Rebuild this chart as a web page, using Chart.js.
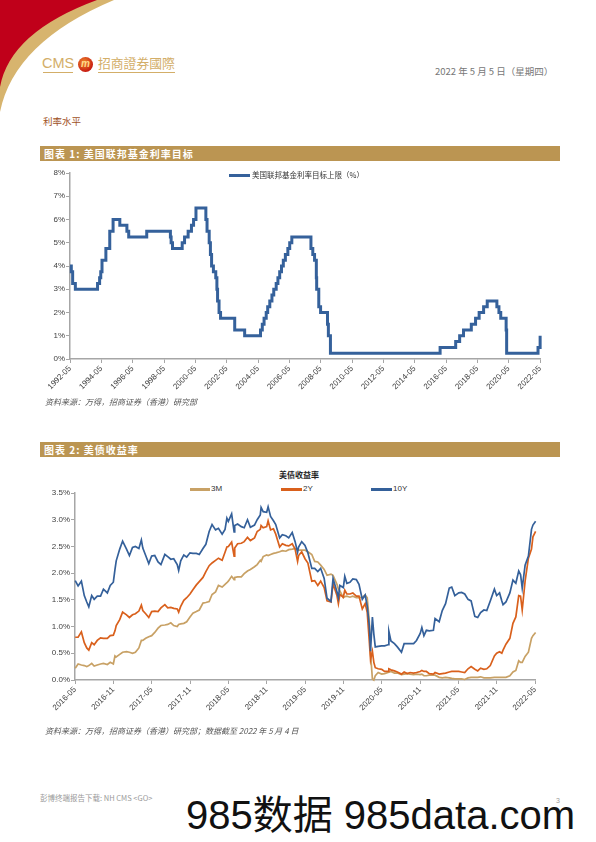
<!DOCTYPE html>
<html lang="zh-CN">
<head>
<meta charset="UTF-8" />
<title>利率水平</title>
<script src="https://cdn.jsdelivr.net/npm/chart.js"></script>
<style>
  body { margin: 0; padding: 0; background: #fff; font-family: "Liberation Sans", Arial, "Noto Sans CJK SC", sans-serif; }
  .page { position: relative; width: 596px; height: 842px; overflow: hidden; background: #fff; }
  .abs { position: absolute; white-space: nowrap; }
  .cjk { font-family: "Noto Sans CJK SC", sans-serif; }
  .bar { position: absolute; left: 40px; width: 520px; height: 15px; background: #bb9552; color: #fff;
         font-family: "Noto Sans CJK SC", sans-serif; font-weight: bold; font-size: 10px; line-height: 15px;
         letter-spacing: 1px; padding-left: 4px; box-sizing: border-box; }
  .src { font-family: "Noto Sans CJK SC", sans-serif; font-style: italic; font-size: 8px; line-height: 8px; color: #555; }
  .leg-line { position: absolute; height: 3px; }
  .leg-txt { font-size: 8px; line-height: 8px; color: #333; }
  .chart-box { position: absolute; }
</style>
</head>
<body>
<div class="page">
  <!-- header swoosh -->
  <svg class="abs" style="left:0;top:0" width="130" height="130">
    <path d="M0,0 L114,0 Q14,42 0,112 Z" fill="#d7b46e" />
    <path d="M0,0 L97,0 Q10,32 0,87 Z" fill="#c0001a" />
  </svg>

  <!-- logo -->
  <div class="abs" style="left:42px;top:56px;font-size:14.5px;line-height:14px;color:#d3ae68;">CMS</div>
  <div class="abs" style="left:43px;top:72px;width:30px;height:1px;background:#d3ae68;"></div>
  <div class="abs" style="left:78px;top:57px;width:15px;height:15px;border-radius:50%;background:radial-gradient(circle at 40% 35%, #f08a2a, #c81e12 70%);color:#ffd98a;font-size:10px;line-height:14px;text-align:center;font-style:italic;font-weight:bold;">m</div>
  <div class="abs cjk" style="left:98px;top:56px;font-size:12.8px;line-height:14px;color:#d3ae68;">招商證券國際</div>
  <div class="abs" style="left:98px;top:72px;width:77px;height:1px;background:#d3ae68;"></div>

  <div class="abs cjk" style="left:435px;top:66px;font-size:9.5px;line-height:10px;color:#777;">2022 年 5 月 5 日（星期四）</div>

  <div class="abs cjk" style="left:43px;top:116px;font-size:9.5px;line-height:10px;color:#a0521f;">利率水平</div>

  <!-- figure 1 -->
  <div class="bar" style="top:146px;">图表 1: 美国联邦基金利率目标</div>
  <div class="chart-box" style="left:30px;top:160px;width:530px;height:240px;"><canvas id="fedChart"></canvas></div>
  <div class="leg-line" style="left:229px;top:174px;width:21px;background:#35619b;"></div>
  <div class="abs leg-txt cjk" style="left:252px;top:171px;font-size:7.5px;">美国联邦基金利率目标上限（%）</div>
  <div class="abs src" style="left:45px;top:398px;">资料来源：万得，招商证券（香港）研究部</div>

  <!-- figure 2 -->
  <div class="bar" style="top:442px;">图表 2: 美债收益率</div>
  <div class="abs cjk" style="left:279px;top:470px;font-size:8px;line-height:9px;font-weight:bold;color:#222;">美债收益率</div>
  <div class="leg-line" style="left:190px;top:488px;width:20px;background:#c8a165;"></div>
  <div class="abs leg-txt" style="left:211px;top:485px;">3M</div>
  <div class="leg-line" style="left:281px;top:488px;width:21px;background:#d9601c;"></div>
  <div class="abs leg-txt" style="left:303px;top:485px;">2Y</div>
  <div class="leg-line" style="left:371px;top:488px;width:21px;background:#34609a;"></div>
  <div class="abs leg-txt" style="left:393px;top:485px;">10Y</div>
  <div class="chart-box" style="left:30px;top:480px;width:530px;height:260px;"><canvas id="ustChart"></canvas></div>
  <div class="abs src" style="left:45px;top:727px;">资料来源：万得，招商证券（香港）研究部；数据截至 2022 年 5 月 4 日</div>

  <!-- footer -->
  <div class="abs cjk" style="left:40px;top:794px;font-size:7.5px;line-height:8px;color:#999;">彭博终端报告下载: NH CMS &lt;GO&gt;</div>
  <div class="abs" style="left:556px;top:797px;font-size:7px;line-height:7px;color:#999;">3</div>
  <div class="abs" style="left:186px;top:790px;font-size:40px;line-height:44px;color:#111;">985<span class="cjk">数据</span> 985data.com</div>
</div>

<script>
  // Fed funds target upper bound (%), change dates
  const fedDates = [
    "1992-05-01", "1992-06-01", "1992-07-02", "1992-09-04", "1994-02-04", "1994-03-22", "1994-04-18",
    "1994-05-17", "1994-08-16", "1994-11-15", "1995-02-01", "1995-07-06", "1995-12-19", "1996-01-31",
    "1997-03-25", "1998-09-29", "1998-10-15", "1998-11-17", "1999-06-30", "1999-08-24", "1999-11-16",
    "2000-02-02", "2000-03-21", "2000-05-16", "2001-01-03", "2001-01-31", "2001-03-20", "2001-04-18",
    "2001-05-15", "2001-06-27", "2001-08-21", "2001-09-17", "2001-10-02", "2001-11-06", "2001-12-11",
    "2002-11-06", "2003-06-25", "2004-06-30", "2004-08-10", "2004-09-21", "2004-11-10", "2004-12-14",
    "2005-02-02", "2005-03-22", "2005-05-03", "2005-06-30", "2005-08-09", "2005-09-20", "2005-11-01",
    "2005-12-13", "2006-01-31", "2006-03-28", "2006-05-10", "2006-06-29", "2007-09-18", "2007-10-31",
    "2007-12-11", "2008-01-22", "2008-01-30", "2008-03-18", "2008-04-30", "2008-10-08", "2008-10-29",
    "2008-12-16", "2015-12-16", "2016-12-14", "2017-03-15", "2017-06-14", "2017-12-13", "2018-03-21",
    "2018-06-13", "2018-09-26", "2018-12-19", "2019-07-31", "2019-09-18", "2019-10-30", "2020-03-03",
    "2020-03-15", "2022-03-16", "2022-05-04"
  ];
  const fedRates = [
    4.00, 3.75, 3.25, 3.00, 3.25, 3.50, 3.75,
    4.25, 4.75, 5.50, 6.00, 5.75, 5.50, 5.25,
    5.50, 5.25, 5.00, 4.75, 5.00, 5.25, 5.50,
    5.75, 6.00, 6.50, 6.00, 5.50, 5.00, 4.50,
    4.00, 3.75, 3.50, 3.00, 2.50, 2.00, 1.75,
    1.25, 1.00, 1.25, 1.50, 1.75, 2.00, 2.25,
    2.50, 2.75, 3.00, 3.25, 3.50, 3.75, 4.00,
    4.25, 4.50, 4.75, 5.00, 5.25, 4.75, 4.50,
    4.25, 3.50, 3.00, 2.25, 2.00, 1.50, 1.00,
    0.25, 0.50, 0.75, 1.00, 1.25, 1.50, 1.75,
    2.00, 2.25, 2.50, 2.25, 2.00, 1.75, 1.25,
    0.25, 0.50, 1.00
  ];
  const fedTicks = ["1992-05", "1994-05", "1996-05", "1998-05", "2000-05", "2002-05", "2004-05", "2006-05",
    "2008-05", "2010-05", "2012-05", "2014-05", "2016-05", "2018-05", "2020-05", "2022-05"];
  const fedYTicks = [0, 1, 2, 3, 4, 5, 6, 7, 8];

  // US Treasury yields (%)
  const ustDates = [
    "2016-05-02", "2016-05-16", "2016-06-01", "2016-06-15", "2016-06-27", "2016-07-06", "2016-07-20",
    "2016-08-01", "2016-08-16", "2016-09-01", "2016-09-15", "2016-10-03", "2016-10-17", "2016-11-01",
    "2016-11-09", "2016-11-15", "2016-12-01", "2016-12-15", "2017-01-03", "2017-01-17", "2017-02-01",
    "2017-02-15", "2017-03-01", "2017-03-13", "2017-03-20", "2017-04-03", "2017-04-18", "2017-05-01",
    "2017-05-16", "2017-06-01", "2017-06-15", "2017-07-03", "2017-07-17", "2017-08-01", "2017-08-15",
    "2017-09-01", "2017-09-08", "2017-09-18", "2017-10-02", "2017-10-16", "2017-11-01", "2017-11-15",
    "2017-12-01", "2017-12-15", "2018-01-02", "2018-01-16", "2018-02-01", "2018-02-15", "2018-03-01",
    "2018-03-15", "2018-04-02", "2018-04-16", "2018-04-25", "2018-05-01", "2018-05-17", "2018-05-29",
    "2018-06-01", "2018-06-15", "2018-07-02", "2018-07-16", "2018-08-01", "2018-08-15", "2018-09-04",
    "2018-09-17", "2018-10-01", "2018-10-05", "2018-10-15", "2018-11-01", "2018-11-08", "2018-11-20",
    "2018-12-03", "2018-12-14", "2019-01-02", "2019-01-15", "2019-02-01", "2019-02-15", "2019-03-01",
    "2019-03-15", "2019-03-27", "2019-04-01", "2019-04-16", "2019-05-01", "2019-05-15", "2019-06-03",
    "2019-06-17", "2019-07-01", "2019-07-15", "2019-08-01", "2019-08-15", "2019-09-03", "2019-09-13",
    "2019-10-01", "2019-10-08", "2019-10-15", "2019-11-01", "2019-11-08", "2019-11-18", "2019-12-02",
    "2019-12-16", "2020-01-02", "2020-01-15", "2020-01-31", "2020-02-14", "2020-02-24", "2020-03-03",
    "2020-03-09", "2020-03-18", "2020-03-25", "2020-04-01", "2020-04-15", "2020-05-01", "2020-05-15",
    "2020-06-01", "2020-06-05", "2020-06-15", "2020-07-01", "2020-07-15", "2020-08-04", "2020-08-17",
    "2020-09-01", "2020-09-15", "2020-10-01", "2020-10-15", "2020-11-02", "2020-11-10", "2020-11-20",
    "2020-12-01", "2020-12-15", "2021-01-04", "2021-01-12", "2021-02-01", "2021-02-16", "2021-03-01",
    "2021-03-19", "2021-03-31", "2021-04-15", "2021-05-03", "2021-05-17", "2021-06-01", "2021-06-17",
    "2021-07-01", "2021-07-19", "2021-08-02", "2021-08-16", "2021-09-01", "2021-09-15", "2021-10-01",
    "2021-10-21", "2021-11-01", "2021-11-15", "2021-11-26", "2021-12-01", "2021-12-15", "2022-01-03",
    "2022-01-18", "2022-02-01", "2022-02-15", "2022-02-24", "2022-03-01", "2022-03-15", "2022-03-31",
    "2022-04-15", "2022-04-22", "2022-05-04"
  ];
  const ust3m = [
    0.22, 0.30, 0.28, 0.27, 0.25, 0.27, 0.31,
    0.26, 0.28, 0.30, 0.31, 0.29, 0.33, 0.30,
    0.45, 0.43, 0.48, 0.52, 0.53, 0.52, 0.50,
    0.52, 0.60, 0.74, 0.74, 0.78, 0.81, 0.83,
    0.89, 0.97, 1.02, 1.03, 1.04, 1.07, 1.02,
    1.00, 1.04, 1.05, 1.06, 1.09, 1.18, 1.25,
    1.28, 1.31, 1.44, 1.45, 1.47, 1.60, 1.65,
    1.77, 1.74, 1.79, 1.82, 1.85, 1.94, 1.88,
    1.92, 1.93, 1.93, 1.99, 2.04, 2.07, 2.12,
    2.16, 2.24, 2.22, 2.31, 2.34, 2.33, 2.35,
    2.37, 2.38, 2.40, 2.42, 2.41, 2.44, 2.45,
    2.46, 2.44, 2.43, 2.43, 2.43, 2.40, 2.35,
    2.22, 2.21, 2.15, 2.07, 1.96, 1.98, 1.96,
    1.79, 1.70, 1.67, 1.54, 1.56, 1.57, 1.55,
    1.57, 1.54, 1.54, 1.55, 1.59, 1.54, 1.10,
    0.50, 0.02, 0.00, 0.08, 0.14, 0.11, 0.12,
    0.14, 0.14, 0.16, 0.13, 0.13, 0.10, 0.11,
    0.12, 0.11, 0.10, 0.11, 0.10, 0.11, 0.08,
    0.08, 0.09, 0.09, 0.09, 0.05, 0.04, 0.05,
    0.04, 0.03, 0.02, 0.02, 0.02, 0.01, 0.04,
    0.05, 0.05, 0.05, 0.06, 0.04, 0.04, 0.04,
    0.05, 0.05, 0.05, 0.05, 0.05, 0.05, 0.08,
    0.15, 0.18, 0.36, 0.33, 0.33, 0.44, 0.52,
    0.78, 0.83, 0.89
  ];
  const ust2y = [
    0.80, 0.80, 0.90, 0.70, 0.60, 0.56, 0.70,
    0.66, 0.74, 0.79, 0.78, 0.78, 0.83, 0.84,
    0.92, 1.02, 1.13, 1.27, 1.22, 1.17, 1.22,
    1.24, 1.29, 1.40, 1.30, 1.24, 1.17, 1.28,
    1.29, 1.28, 1.35, 1.41, 1.35, 1.36, 1.34,
    1.33, 1.27, 1.38, 1.49, 1.54, 1.61, 1.69,
    1.78, 1.84, 1.92, 2.03, 2.14, 2.19, 2.24,
    2.28, 2.24, 2.39, 2.49, 2.50, 2.58, 2.32,
    2.47, 2.55, 2.56, 2.59, 2.67, 2.61, 2.66,
    2.78, 2.82, 2.89, 2.85, 2.87, 2.98, 2.81,
    2.83, 2.73, 2.49, 2.55, 2.52, 2.51, 2.55,
    2.45, 2.22, 2.33, 2.40, 2.27, 2.19, 1.85,
    1.86, 1.77, 1.85, 1.73, 1.48, 1.46, 1.80,
    1.58, 1.43, 1.60, 1.55, 1.68, 1.61, 1.61,
    1.63, 1.57, 1.57, 1.33, 1.43, 1.26, 0.72,
    0.38, 0.54, 0.33, 0.23, 0.21, 0.20, 0.16,
    0.16, 0.21, 0.19, 0.17, 0.15, 0.11, 0.15,
    0.12, 0.14, 0.13, 0.14, 0.16, 0.18, 0.16,
    0.16, 0.12, 0.11, 0.14, 0.11, 0.12, 0.13,
    0.15, 0.16, 0.16, 0.16, 0.15, 0.14, 0.21,
    0.25, 0.20, 0.17, 0.22, 0.20, 0.21, 0.27,
    0.45, 0.50, 0.53, 0.50, 0.56, 0.67, 0.78,
    1.06, 1.18, 1.58, 1.57, 1.31, 1.85, 2.28,
    2.45, 2.68, 2.78
  ];
  const ust10y = [
    1.86, 1.76, 1.85, 1.58, 1.46, 1.37, 1.58,
    1.51, 1.57, 1.57, 1.70, 1.63, 1.77, 1.83,
    2.07, 2.23, 2.45, 2.60, 2.45, 2.33, 2.48,
    2.50, 2.46, 2.62, 2.47, 2.33, 2.18, 2.32,
    2.33, 2.21, 2.16, 2.35, 2.31, 2.26, 2.27,
    2.16, 2.05, 2.23, 2.34, 2.30, 2.38, 2.37,
    2.37, 2.35, 2.46, 2.54, 2.78, 2.91, 2.81,
    2.84, 2.73, 2.82, 3.03, 2.97, 3.11, 2.77,
    2.89, 2.92, 2.87, 2.85, 3.00, 2.86, 2.90,
    3.00, 3.09, 3.23, 3.15, 3.14, 3.24, 3.06,
    2.98, 2.91, 2.66, 2.72, 2.70, 2.66, 2.76,
    2.59, 2.39, 2.49, 2.59, 2.52, 2.38, 2.09,
    2.09, 2.03, 2.09, 1.90, 1.53, 1.47, 1.90,
    1.65, 1.54, 1.77, 1.73, 1.94, 1.81, 1.83,
    1.89, 1.88, 1.79, 1.51, 1.59, 1.38, 1.02,
    0.54, 1.18, 0.86, 0.62, 0.63, 0.64, 0.64,
    0.66, 0.91, 0.73, 0.68, 0.62, 0.52, 0.68,
    0.68, 0.68, 0.68, 0.74, 0.87, 0.98, 0.83,
    0.93, 0.92, 0.93, 1.15, 1.09, 1.30, 1.43,
    1.72, 1.74, 1.58, 1.63, 1.64, 1.61, 1.51,
    1.48, 1.19, 1.17, 1.26, 1.31, 1.30, 1.48,
    1.70, 1.58, 1.63, 1.48, 1.41, 1.46, 1.63,
    1.87, 1.81, 2.04, 1.97, 1.72, 2.15, 2.32,
    2.82, 2.90, 2.97
  ];
  const ustTicks = ["2016-05", "2016-11", "2017-05", "2017-11", "2018-05", "2018-11", "2019-05",
    "2019-11", "2020-05", "2020-11", "2021-05", "2021-11", "2022-05"];
  const ustYTicks = [0, 0.5, 1.0, 1.5, 2.0, 2.5, 3.0, 3.5];

  // month offset from a base "YYYY-MM"
  function monthsFrom(base, d) {
    const [by, bm] = base.split("-").map(Number);
    const p = d.split("-").map(Number);
    return (p[0] - by) * 12 + (p[1] - bm) + (p[2] ? (p[2] - 1) / 31 : 0);
  }

  Chart.defaults.font.family = '"Liberation Sans", Arial, sans-serif';
  Chart.defaults.font.size = 8;
  Chart.defaults.color = "#404040";

  function axisX(base, ticks, height) {
    const vals = ticks.map(t => monthsFrom(base, t));
    return {
      type: "linear",
      min: vals[0],
      max: vals[vals.length - 1],
      afterBuildTicks: s => { s.ticks = vals.map(v => ({ value: v })); },
      afterFit: s => { s.height = height; },
      ticks: {
        minRotation: 45, maxRotation: 45, padding: 1, autoSkip: false,
        callback: v => ticks[vals.indexOf(v)] || ""
      },
      grid: { drawOnChartArea: false, tickLength: 4, color: "#a6a6a6" },
      border: { color: "#a6a6a6", width: 1.5 }
    };
  }

  function axisY(ticks, fmt, width) {
    return {
      min: ticks[0],
      max: ticks[ticks.length - 1],
      afterBuildTicks: s => { s.ticks = ticks.map(v => ({ value: v })); },
      afterFit: s => { s.width = width; },
      ticks: { padding: 1, callback: fmt },
      grid: { drawOnChartArea: false, tickLength: 4, color: "#a6a6a6" },
      border: { color: "#a6a6a6", width: 1.5 }
    };
  }

  new Chart(document.getElementById("fedChart"), {
    type: "line",
    data: {
      datasets: [{
        label: "美国联邦基金利率目标上限（%）",
        data: fedDates.map((d, i) => ({ x: monthsFrom("1992-05", d), y: fedRates[i] })),
        stepped: true,
        borderColor: "#35619b",
        borderWidth: 3,
        pointRadius: 0,
        clip: 4
      }]
    },
    options: {
      responsive: true,
      maintainAspectRatio: false,
      animation: false,
      layout: { padding: { top: 13, right: 20, left: 0, bottom: 0 } },
      plugins: { legend: { display: false }, tooltip: { enabled: false } },
      scales: {
        x: axisX("1992-05", fedTicks, 41),
        y: axisY(fedYTicks, v => v + "%", 40)
      }
    }
  });

  const ustSeries = [
    { label: "10Y", values: ust10y, color: "#34609a" },
    { label: "2Y", values: ust2y, color: "#d9601c" },
    { label: "3M", values: ust3m, color: "#c8a165" }
  ];

  new Chart(document.getElementById("ustChart"), {
    type: "line",
    data: {
      datasets: ustSeries.map(s => ({
        label: s.label,
        data: ustDates.map((d, i) => ({ x: monthsFrom("2016-05", d), y: s.values[i] })),
        borderColor: s.color,
        borderWidth: 1.7,
        pointRadius: 0,
        tension: 0,
        clip: 4
      }))
    },
    options: {
      responsive: true,
      maintainAspectRatio: false,
      animation: false,
      layout: { padding: { top: 13, right: 25, left: 0, bottom: 0 } },
      plugins: { legend: { display: false }, tooltip: { enabled: false } },
      scales: {
        x: axisX("2016-05", ustTicks, 60),
        y: axisY(ustYTicks, v => v.toFixed(1) + "%", 45)
      }
    }
  });
</script>
</body>
</html>
